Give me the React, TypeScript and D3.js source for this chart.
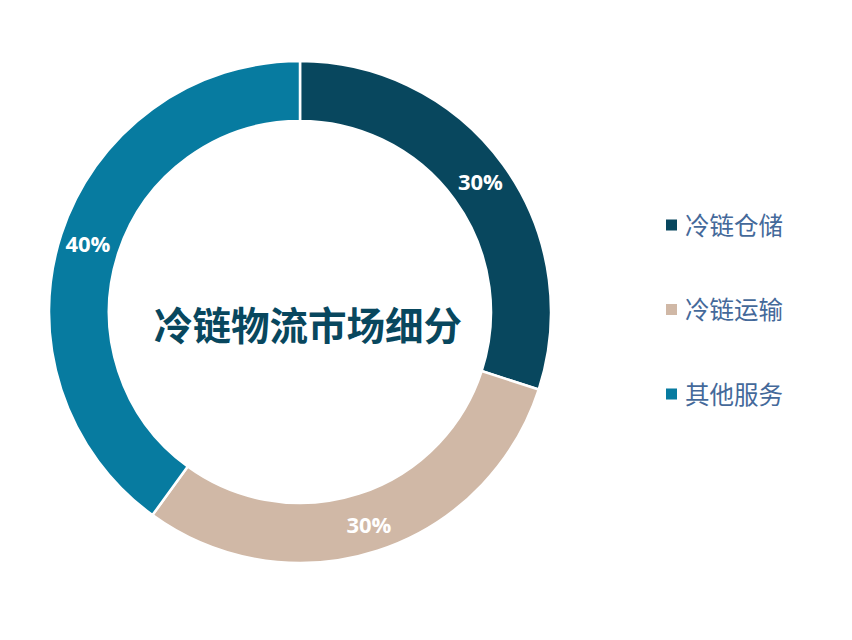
import React, { useEffect, useRef } from 'react';
import * as d3 from 'd3';

// segments in clockwise order from 12 o'clock
const categories = ['冷链仓储', '冷链运输', '其他服务'];
const shares = [30, 30, 40];
const colors = ['#08475e', '#d0b8a6', '#077ba0'];
const title = '冷链物流市场细分';

export default function App() {
  const ref = useRef<SVGSVGElement | null>(null);

  useEffect(() => {
    if (!ref.current) return;
    const width = 852;
    const height = 640;
    const cx = 300;
    const cy = 312;
    const outerR = 251;
    const innerR = 191;

    const svg = d3.select(ref.current);
    svg.selectAll('*').remove();
    svg.attr('viewBox', `0 0 ${width} ${height}`);

    svg.append('rect').attr('width', width).attr('height', height).attr('fill', '#fff');

    const color = d3.scaleOrdinal<string, string>().domain(categories).range(colors);

    const pie = d3.pie<number>().sort(null).value(d => d);
    const arcs = pie(shares);
    const arc = d3.arc<d3.PieArcDatum<number>>().innerRadius(innerR).outerRadius(outerR);
    const labelArc = d3.arc<d3.PieArcDatum<number>>().innerRadius(223).outerRadius(223);

    const g = svg.append('g').attr('transform', `translate(${cx},${cy})`);

    g.selectAll('path.slice')
      .data(arcs)
      .enter()
      .append('path')
      .attr('class', 'slice')
      .attr('d', arc)
      .attr('fill', (_, i) => color(categories[i]))
      .attr('stroke', '#fff')
      .attr('stroke-width', 2.5);

    g.selectAll('text.pct')
      .data(arcs)
      .enter()
      .append('text')
      .attr('class', 'pct')
      .attr('transform', d => `translate(${labelArc.centroid(d)})`)
      .attr('text-anchor', 'middle')
      .attr('dominant-baseline', 'central')
      .attr('fill', '#fff')
      .attr('font-family', '"Open Sans", "Noto Sans", sans-serif')
      .attr('font-weight', 700)
      .attr('font-size', 22)
      .text(d => `${d.data}%`);

    // centre title
    svg.append('text')
      .attr('x', cx + 8)
      .attr('y', cy + 11)
      .attr('text-anchor', 'middle')
      .attr('dominant-baseline', 'central')
      .attr('fill', '#08475e')
      .attr('font-family', '"Noto Sans CJK SC", sans-serif')
      .attr('font-weight', 700)
      .attr('font-size', 38.5)
      .text(title);

    // legend
    const legend = svg.append('g').attr('transform', 'translate(666, 225)');
    const item = legend.selectAll('g.item')
      .data(categories)
      .enter()
      .append('g')
      .attr('class', 'item')
      .attr('transform', (_, i) => `translate(0, ${i * 84.5})`);
    item.append('rect')
      .attr('x', 0)
      .attr('y', -5.5)
      .attr('width', 11)
      .attr('height', 11)
      .attr('fill', d => color(d));
    item.append('text')
      .attr('x', 19)
      .attr('y', -1)
      .attr('dominant-baseline', 'central')
      .attr('fill', '#44699a')
      .attr('font-family', '"Noto Sans CJK SC", sans-serif')
      .attr('font-size', 24.5)
      .text(d => d);
  }, []);

  return (
    <div style={{ width: 852, height: 640, margin: -8 }}>
      <svg ref={ref} width={852} height={640} style={{ display: 'block' }} />
    </div>
  );
}
